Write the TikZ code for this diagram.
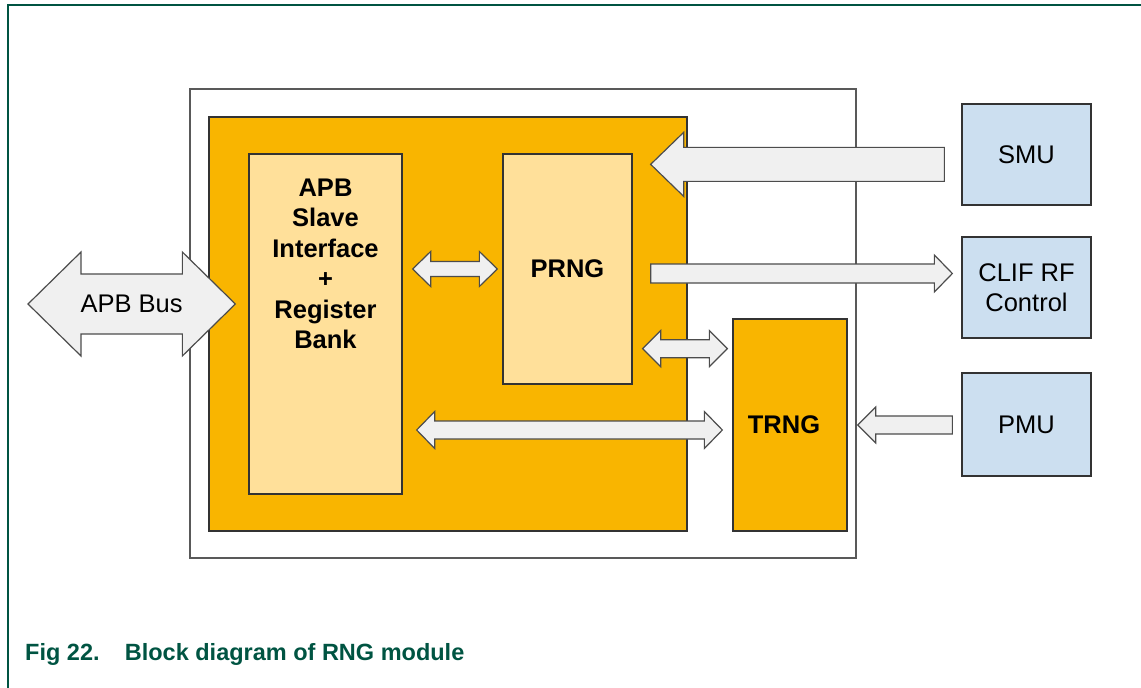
\documentclass[tikz,border=0pt]{standalone}
\usepackage{fontspec}
\setmainfont{Liberation Sans}
\usepackage{tikz}
\usetikzlibrary{calc}

\definecolor{nxpgreen}{RGB}{0,84,66}
\definecolor{coreorange}{RGB}{249,181,0}
\definecolor{lightyellow}{RGB}{255,224,154}
\definecolor{lightblue}{RGB}{204,223,240}
\definecolor{arrowgrey}{RGB}{240,240,240}

% double block arrow: left tip, right tip, shaft half, head half, head length
\newcommand{\twoway}[5]{%
  \draw[blockarrow] (#1) -- ($(#1)+(#5,-#4)$) -- ($(#1)+(#5,-#3)$)
    -- ($(#2 |- #1)+(-#5,-#3)$) -- ($(#2 |- #1)+(-#5,-#4)$) -- (#2 |- #1)
    -- ($(#2 |- #1)+(-#5,#4)$) -- ($(#2 |- #1)+(-#5,#3)$)
    -- ($(#1)+(#5,#3)$) -- ($(#1)+(#5,#4)$) -- cycle;}
% single block arrow: tip, tail, shaft half, head half, head length (signed)
\newcommand{\oneway}[5]{%
  \draw[blockarrow] (#1) -- ($(#1)+(#5,-#4)$) -- ($(#1)+(#5,-#3)$)
    -- ($(#2 |- #1)+(0,-#3)$) -- ($(#2 |- #1)+(0,#3)$)
    -- ($(#1)+(#5,#3)$) -- ($(#1)+(#5,#4)$) -- cycle;}

\begin{document}
\begin{tikzpicture}[x=1pt, y=-1pt,
    block/.style={draw=black!80, line width=1.3pt, inner sep=0pt},
    blockarrow/.style={draw=black!70, line width=1.2pt, fill=arrowgrey},
    plain/.style={font=\fontsize{25.5}{30.5}\selectfont, align=center},
    bold/.style={font=\fontsize{25.5}{30.5}\selectfont\bfseries, align=center}]
    \useasboundingbox (0,0) rectangle (1141,688);
    % Draw the page frame
    \draw[nxpgreen, line width=2pt] (1141,4.5) -- (7.5,4.5) -- (7.5,688);
    % Draw the module and its blocks
    \node[block, draw=black!65, line width=1.6pt, fill=white, minimum width=666pt, minimum height=469pt] (rng) at (523,323.5) {};
    \node[block, fill=coreorange, minimum width=478pt, minimum height=414pt] (core) at (448,324) {};
    \node[block, fill=lightyellow, minimum width=153pt, minimum height=340pt,
      label={[bold, yshift=60pt]center:APB\\Slave\\Interface\\+\\Register\\Bank}] (apb) at (325.5,324) {};
    \node[block, bold, fill=lightyellow, minimum width=129pt, minimum height=230pt] (prng) at (567.5,269) {PRNG};
    \node[block, bold, fill=coreorange, minimum width=114pt, minimum height=212pt] (trng) at (790,425) {\hspace*{-12pt}TRNG};
    \node[block, plain, fill=lightblue, minimum width=129pt, minimum height=101pt] (smu) at (1026.5,154.5) {SMU};
    \node[block, plain, fill=lightblue, minimum width=129pt, minimum height=101pt] (clif) at (1026.5,287.5) {CLIF RF\\Control};
    \node[block, plain, fill=lightblue, minimum width=129pt, minimum height=103pt] (pmu) at (1026.5,424.5) {PMU};
    % Arrow ends
    \coordinate (busL) at (28,304);
    \coordinate (busR) at ($(core.west)+(27,-20)$);
    \coordinate (apbPrngL) at ($(apb.east |- prng.center)+(10,0)$);
    \coordinate (apbPrngR) at ($(prng.west)+(-5,0)$);
    \coordinate (prngTrngL) at ($(prng.south east)+(10,-36)$);
    \coordinate (prngTrngR) at ($(trng.north west)+(-5,29)$);
    \coordinate (apbTrngL) at ($(apb.east)+(14,106)$);
    \coordinate (apbTrngR) at ($(trng.west)+(-10,5)$);
    \coordinate (smuTip) at ($(prng.north east)+(18,11)$);
    \coordinate (smuTail) at ($(smu.west)+(-17,10)$);
    \coordinate (clifTail) at ($(prng.east)+(18,4.5)$);
    \coordinate (clifTip) at ($(clif.west)+(-9,-14)$);
    \coordinate (pmuTip) at ($(trng.east)+(10,0)$);
    \coordinate (pmuTail) at ($(pmu.west)+(-9,0)$);
    % Draw the block arrows
    \twoway{busL}{busR}{30}{52}{53}
    \node[plain] (bus) at ($(busL)!0.5!(busR)$) {APB Bus};
    \twoway{apbPrngL}{apbPrngR}{7.5}{17.5}{18}
    \twoway{prngTrngL}{prngTrngR}{9}{18}{18}
    \twoway{apbTrngL}{apbTrngR}{9}{18.5}{18}
    \oneway{smuTip}{smuTail}{17}{32}{33}
    \oneway{clifTip}{clifTail}{9.5}{18.5}{-18}
    \oneway{pmuTip}{pmuTail}{9}{18}{18}
    % Caption
    \node[anchor=base west, inner sep=0pt, text=nxpgreen, font=\fontsize{23.5}{28}\selectfont\bfseries] (caption) at (25,660) {Fig 22.\hspace{16.5pt} Block diagram of RNG module};
\end{tikzpicture}
\end{document}
